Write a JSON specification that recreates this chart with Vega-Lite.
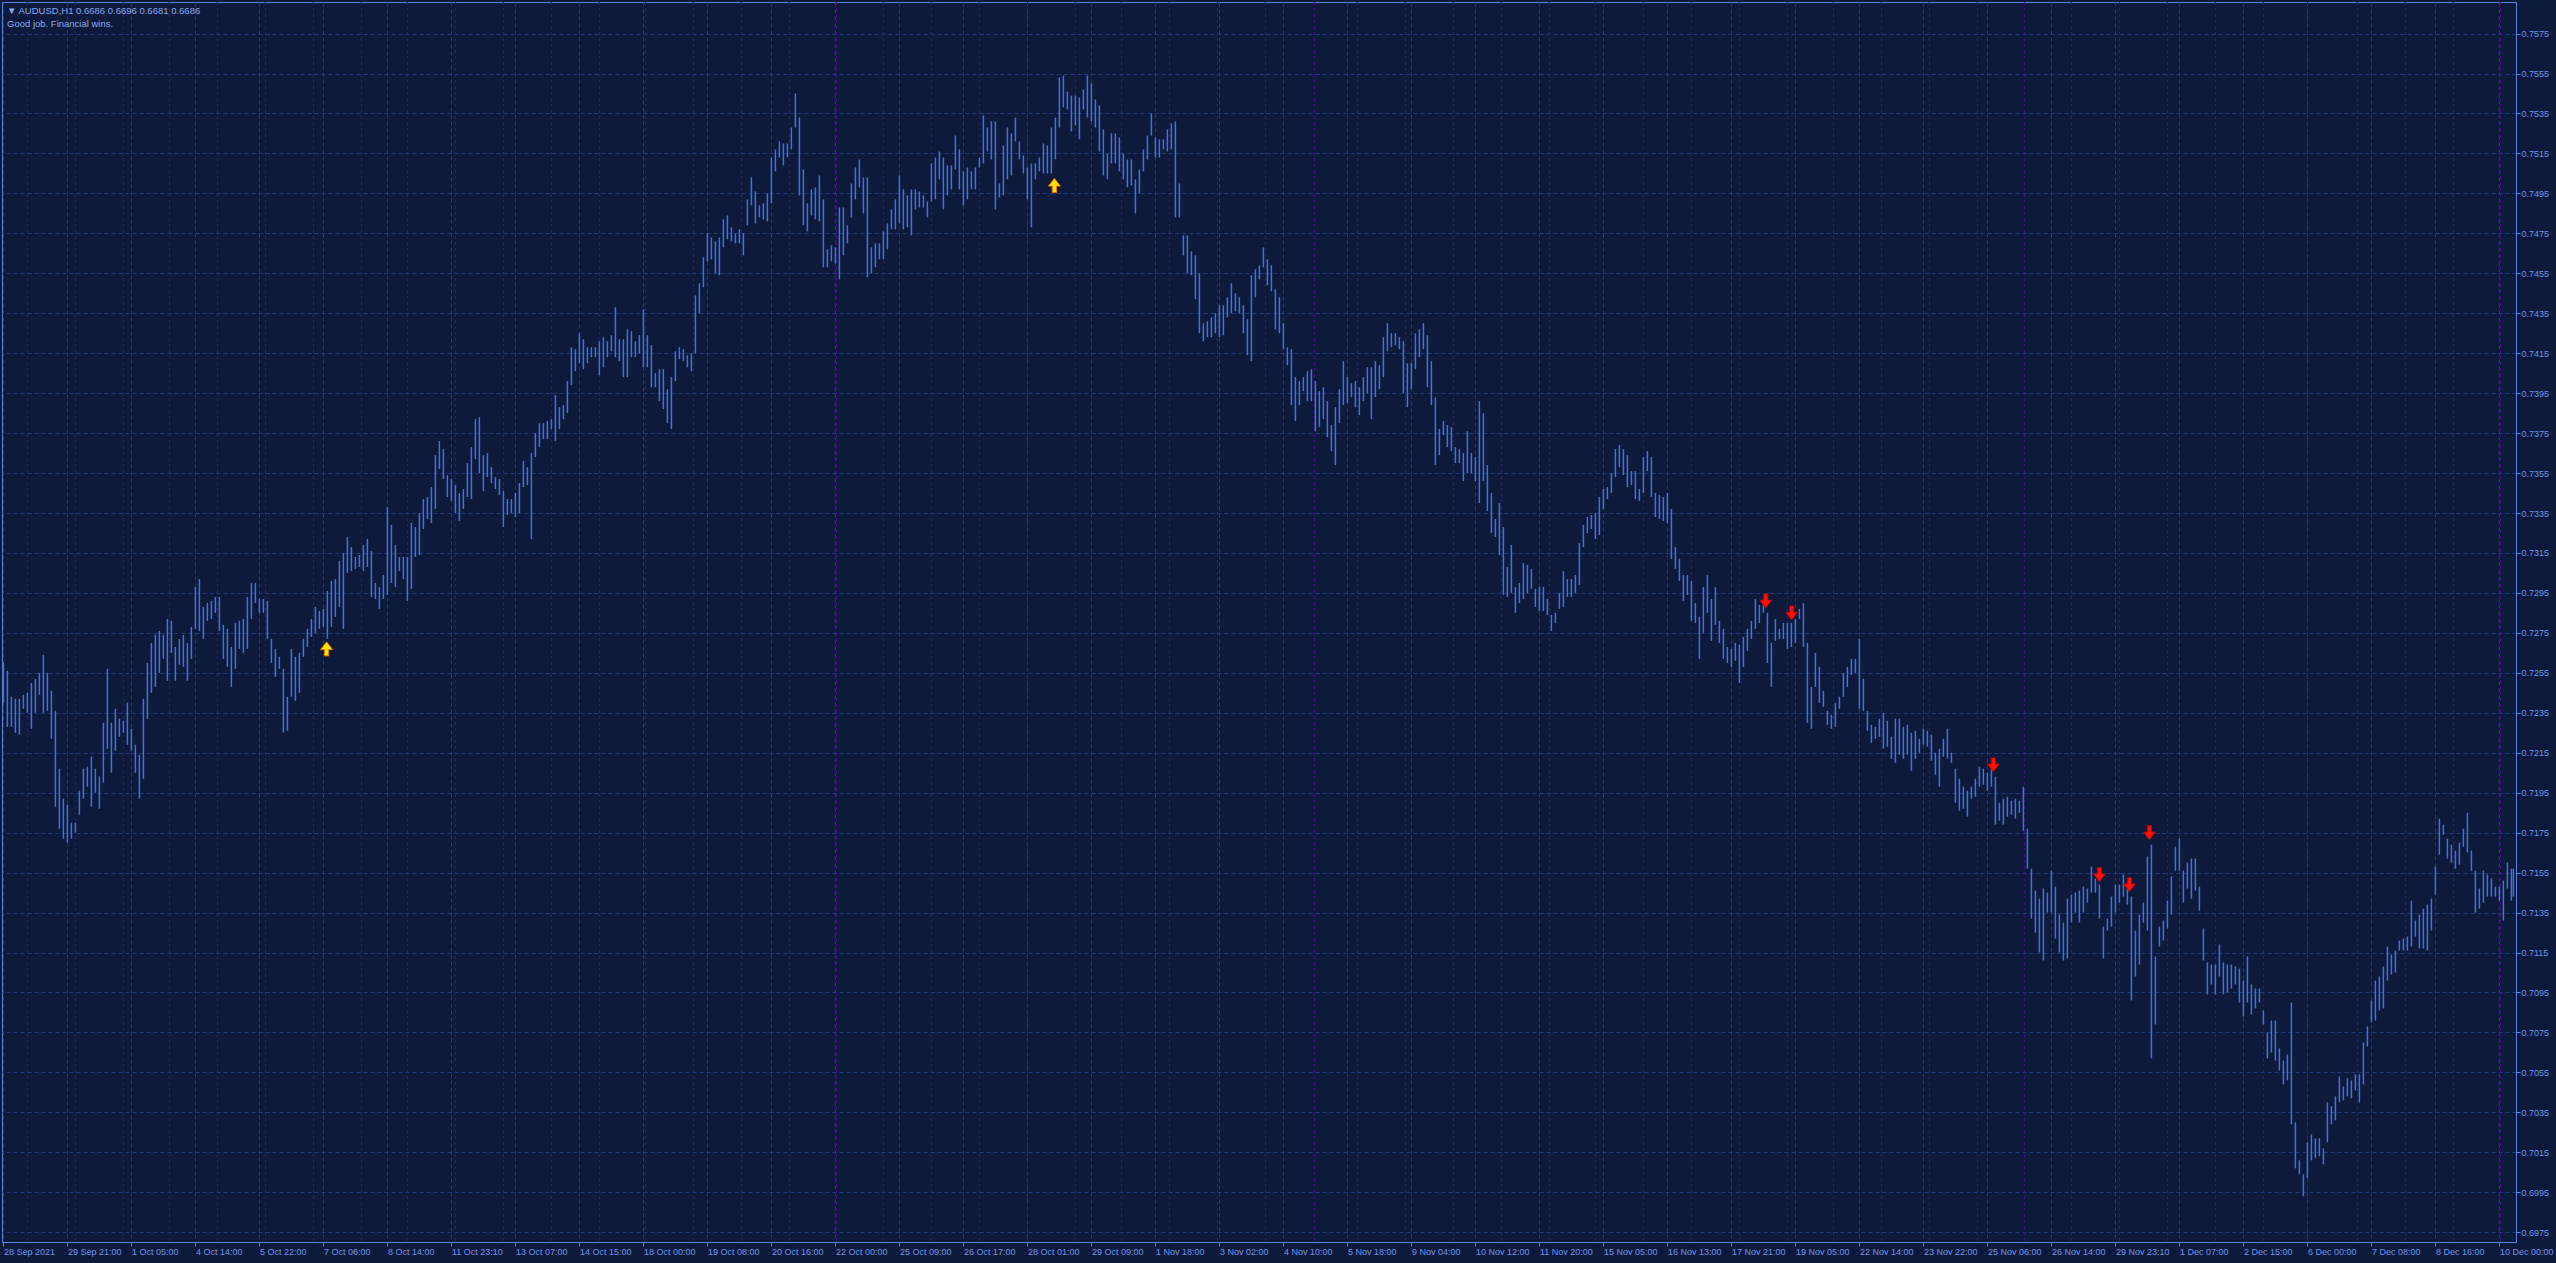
{
"$schema":"https://vega.github.io/schema/vega-lite/v6.json",
"width":2514,"height":1240,
"autosize":{"type":"none"},
"padding":{"left":2,"top":2,"right":40,"bottom":21},
"background":"#0e1a3c",
"config":{"view":{"stroke":"#5c84dc","strokeWidth":1,"fill":"#0e1a3c"},"font":"Liberation Sans"},
"title":{"text":"▼  AUDUSD,H1  0.6686 0.6696 0.6681 0.6686","subtitle":"Good job. Financial wins.","anchor":"start","frame":"group","offset":-27,"dx":5,"color":"#86aaf0","subtitleColor":"#86aaf0","font":"Liberation Sans","subtitleFont":"Liberation Sans","fontSize":9.5,"subtitleFontSize":9.5,"fontWeight":"normal","subtitlePadding":3.5},
"datasets":{
"seps":[{"i":12},{"i":36},{"i":60},{"i":83},{"i":107},{"i":131},{"i":155},{"i":179},{"i":202},{"i":226},{"i":250},{"i":274},{"i":298},{"i":321},{"i":345},{"i":369},{"i":393},{"i":416.5},{"i":440},{"i":464},{"i":488},{"i":512},{"i":536},{"i":559},{"i":583},{"i":607},{"i":631},{"i":655.5},{"i":677},{"i":701},{"i":725},{"i":749},{"i":773},{"i":796},{"i":820},{"i":844},{"i":868},{"i":892},{"i":915},{"i":939},{"i":963},{"i":987},{"i":1010.5},{"i":1034},{"i":1058},{"i":1082},{"i":1106},{"i":1130},{"i":1152},{"i":1177},{"i":1201},{"i":1225},{"i":1248.5}],
"arrows":[{"i":161.6,"p":0.7267,"dir":"up"},{"i":525.5,"p":0.7499,"dir":"up"},{"i":881.2,"p":0.7291,"dir":"down"},{"i":894.1,"p":0.7285,"dir":"down"},{"i":995,"p":0.7209,"dir":"down"},{"i":1048,"p":0.7154,"dir":"down"},{"i":1063,"p":0.7149,"dir":"down"},{"i":1073,"p":0.7175,"dir":"down"}],
"bars":[
{"i":0,"h":0.7260,"l":0.7240},{"i":2,"h":0.7256,"l":0.7228},{"i":4,"h":0.7243,"l":0.7228},{"i":6,"h":0.7242,"l":0.7225},{"i":8,"h":0.7242,"l":0.7224},{"i":10,"h":0.7244,"l":0.7237},{"i":12,"h":0.7245,"l":0.7235},{"i":14,"h":0.7250,"l":0.7227},{"i":16,"h":0.7252,"l":0.7235},{"i":18,"h":0.7255,"l":0.7244},{"i":20,"h":0.7264,"l":0.7235},{"i":22,"h":0.7255,"l":0.7236},{"i":24,"h":0.7246,"l":0.7222},{"i":26,"h":0.7236,"l":0.7188},{"i":28,"h":0.7207,"l":0.7177},{"i":30,"h":0.7192,"l":0.7172},{"i":32,"h":0.7189,"l":0.7170},{"i":34,"h":0.7180,"l":0.7172},{"i":36,"h":0.7180,"l":0.7175},{"i":38,"h":0.7196,"l":0.7184},{"i":40,"h":0.7207,"l":0.7192},{"i":42,"h":0.7208,"l":0.7198},{"i":44,"h":0.7213,"l":0.7188},{"i":46,"h":0.7207,"l":0.7195},{"i":48,"h":0.7203,"l":0.7187},{"i":50,"h":0.7230,"l":0.7200},{"i":52,"h":0.7257,"l":0.7217},{"i":54,"h":0.7230,"l":0.7205},{"i":56,"h":0.7237,"l":0.7216},{"i":58,"h":0.7232,"l":0.7223},{"i":60,"h":0.7231,"l":0.7225},{"i":62,"h":0.7240,"l":0.7219},{"i":64,"h":0.7227,"l":0.7216},{"i":66,"h":0.7219,"l":0.7205},{"i":68,"h":0.7214,"l":0.7192},{"i":70,"h":0.7242,"l":0.7202},{"i":72,"h":0.7260,"l":0.7232},{"i":74,"h":0.7270,"l":0.7245},{"i":76,"h":0.7274,"l":0.7248},{"i":78,"h":0.7276,"l":0.7255},{"i":80,"h":0.7274,"l":0.7262},{"i":82,"h":0.7282,"l":0.7251},{"i":84,"h":0.7281,"l":0.7265},{"i":86,"h":0.7268,"l":0.7251},{"i":88,"h":0.7272,"l":0.7259},{"i":90,"h":0.7274,"l":0.7258},{"i":92,"h":0.7270,"l":0.7251},{"i":94,"h":0.7278,"l":0.7262},{"i":96,"h":0.7298,"l":0.7277},{"i":98,"h":0.7302,"l":0.7276},{"i":100,"h":0.7288,"l":0.7272},{"i":102,"h":0.7290,"l":0.7281},{"i":104,"h":0.7291,"l":0.7282},{"i":106,"h":0.7293,"l":0.7285},{"i":108,"h":0.7293,"l":0.7276},{"i":110,"h":0.7279,"l":0.7262},{"i":112,"h":0.7277,"l":0.7258},{"i":114,"h":0.7268,"l":0.7248},{"i":116,"h":0.7280,"l":0.7257},{"i":118,"h":0.7281,"l":0.7267},{"i":120,"h":0.7282,"l":0.7265},{"i":122,"h":0.7293,"l":0.7267},{"i":124,"h":0.7300,"l":0.7282},{"i":126,"h":0.7300,"l":0.7290},{"i":128,"h":0.7292,"l":0.7285},{"i":130,"h":0.7292,"l":0.7285},{"i":132,"h":0.7291,"l":0.7272},{"i":134,"h":0.7272,"l":0.7260},{"i":136,"h":0.7267,"l":0.7253},{"i":138,"h":0.7263,"l":0.7257},{"i":140,"h":0.7257,"l":0.7225},{"i":142,"h":0.7243,"l":0.7226},{"i":144,"h":0.7267,"l":0.7243},{"i":146,"h":0.7263,"l":0.7241},{"i":148,"h":0.7265,"l":0.7245},{"i":150,"h":0.7272,"l":0.7263},{"i":152,"h":0.7277,"l":0.7268},{"i":154,"h":0.7282,"l":0.7273},{"i":156,"h":0.7288,"l":0.7275},{"i":158,"h":0.7286,"l":0.7277},{"i":160,"h":0.7287,"l":0.7278},{"i":162,"h":0.7296,"l":0.7272},{"i":164,"h":0.7301,"l":0.7278},{"i":166,"h":0.7302,"l":0.7283},{"i":168,"h":0.7311,"l":0.7288},{"i":170,"h":0.7315,"l":0.7277},{"i":172,"h":0.7323,"l":0.7305},{"i":174,"h":0.7318,"l":0.7306},{"i":176,"h":0.7313,"l":0.7307},{"i":178,"h":0.7314,"l":0.7308},{"i":180,"h":0.7319,"l":0.7306},{"i":182,"h":0.7322,"l":0.7308},{"i":184,"h":0.7316,"l":0.7293},{"i":186,"h":0.7300,"l":0.7292},{"i":188,"h":0.7298,"l":0.7287},{"i":190,"h":0.7304,"l":0.7292},{"i":192,"h":0.7338,"l":0.7294},{"i":194,"h":0.7329,"l":0.7300},{"i":196,"h":0.7319,"l":0.7298},{"i":198,"h":0.7313,"l":0.7306},{"i":200,"h":0.7313,"l":0.7302},{"i":202,"h":0.7313,"l":0.7291},{"i":204,"h":0.7330,"l":0.7297},{"i":206,"h":0.7328,"l":0.7313},{"i":208,"h":0.7335,"l":0.7314},{"i":210,"h":0.7342,"l":0.7327},{"i":212,"h":0.7343,"l":0.7332},{"i":214,"h":0.7348,"l":0.7330},{"i":216,"h":0.7364,"l":0.7337},{"i":218,"h":0.7371,"l":0.7357},{"i":220,"h":0.7367,"l":0.7352},{"i":222,"h":0.7354,"l":0.7343},{"i":224,"h":0.7352,"l":0.7341},{"i":226,"h":0.7349,"l":0.7335},{"i":228,"h":0.7345,"l":0.7331},{"i":230,"h":0.7347,"l":0.7337},{"i":232,"h":0.7360,"l":0.7343},{"i":234,"h":0.7368,"l":0.7342},{"i":236,"h":0.7382,"l":0.7362},{"i":238,"h":0.7383,"l":0.7355},{"i":240,"h":0.7364,"l":0.7346},{"i":242,"h":0.7365,"l":0.7353},{"i":244,"h":0.7358,"l":0.7350},{"i":246,"h":0.7353,"l":0.7347},{"i":248,"h":0.7352,"l":0.7344},{"i":250,"h":0.7346,"l":0.7328},{"i":252,"h":0.7342,"l":0.7334},{"i":254,"h":0.7342,"l":0.7335},{"i":256,"h":0.7345,"l":0.7333},{"i":258,"h":0.7350,"l":0.7335},
{"i":260,"h":0.7361,"l":0.7348},{"i":262,"h":0.7358,"l":0.7349},{"i":264,"h":0.7365,"l":0.7322},{"i":266,"h":0.7375,"l":0.7363},{"i":268,"h":0.7380,"l":0.7368},{"i":270,"h":0.7380,"l":0.7372},{"i":272,"h":0.7381,"l":0.7372},{"i":274,"h":0.7382,"l":0.7377},{"i":276,"h":0.7394,"l":0.7371},{"i":278,"h":0.7388,"l":0.7377},{"i":280,"h":0.7389,"l":0.7382},{"i":282,"h":0.7401,"l":0.7385},{"i":284,"h":0.7418,"l":0.7399},{"i":286,"h":0.7417,"l":0.7406},{"i":288,"h":0.7425,"l":0.7410},{"i":290,"h":0.7422,"l":0.7407},{"i":292,"h":0.7418,"l":0.7410},{"i":294,"h":0.7418,"l":0.7413},{"i":296,"h":0.7418,"l":0.7413},{"i":298,"h":0.7421,"l":0.7404},{"i":300,"h":0.7423,"l":0.7408},{"i":302,"h":0.7421,"l":0.7413},{"i":304,"h":0.7424,"l":0.7416},{"i":306,"h":0.7438,"l":0.7413},{"i":308,"h":0.7422,"l":0.7411},{"i":310,"h":0.7422,"l":0.7403},{"i":312,"h":0.7427,"l":0.7403},{"i":314,"h":0.7426,"l":0.7413},{"i":316,"h":0.7421,"l":0.7413},{"i":318,"h":0.7424,"l":0.7415},{"i":320,"h":0.7437,"l":0.7408},{"i":322,"h":0.7424,"l":0.7408},{"i":324,"h":0.7419,"l":0.7398},{"i":326,"h":0.7405,"l":0.7398},{"i":328,"h":0.7407,"l":0.7391},{"i":330,"h":0.7407,"l":0.7387},{"i":332,"h":0.7397,"l":0.7380},{"i":334,"h":0.7403,"l":0.7377},{"i":336,"h":0.7416,"l":0.7401},{"i":338,"h":0.7418,"l":0.7412},{"i":340,"h":0.7417,"l":0.7411},{"i":342,"h":0.7414,"l":0.7408},{"i":344,"h":0.7415,"l":0.7406},{"i":346,"h":0.7444,"l":0.7415},{"i":348,"h":0.7450,"l":0.7435},{"i":350,"h":0.7463,"l":0.7448},{"i":352,"h":0.7475,"l":0.7461},{"i":354,"h":0.7473,"l":0.7462},{"i":356,"h":0.7471,"l":0.7455},{"i":358,"h":0.7473,"l":0.7454},{"i":360,"h":0.7482,"l":0.7468},{"i":362,"h":0.7484,"l":0.7472},{"i":364,"h":0.7478,"l":0.7471},{"i":366,"h":0.7475,"l":0.7470},{"i":368,"h":0.7477,"l":0.7470},{"i":370,"h":0.7475,"l":0.7464},{"i":372,"h":0.7492,"l":0.7479},{"i":374,"h":0.7503,"l":0.7489},{"i":376,"h":0.7496,"l":0.7480},{"i":378,"h":0.7489,"l":0.7483},{"i":380,"h":0.7490,"l":0.7482},{"i":382,"h":0.7495,"l":0.7481},{"i":384,"h":0.7513,"l":0.7490},{"i":386,"h":0.7517,"l":0.7506},{"i":388,"h":0.7521,"l":0.7513},{"i":390,"h":0.7520,"l":0.7509},{"i":392,"h":0.7520,"l":0.7513},{"i":394,"h":0.7528,"l":0.7517},{"i":396,"h":0.7545,"l":0.7528},{"i":398,"h":0.7533,"l":0.7494},{"i":400,"h":0.7507,"l":0.7479},{"i":402,"h":0.7490,"l":0.7476},{"i":404,"h":0.7497,"l":0.7484},{"i":406,"h":0.7498,"l":0.7482},{"i":408,"h":0.7504,"l":0.7481},{"i":410,"h":0.7492,"l":0.7458},{"i":412,"h":0.7467,"l":0.7458},{"i":414,"h":0.7469,"l":0.7461},{"i":416,"h":0.7468,"l":0.7460},{"i":418,"h":0.7488,"l":0.7452},{"i":420,"h":0.7488,"l":0.7464},{"i":422,"h":0.7479,"l":0.7470},{"i":424,"h":0.7500,"l":0.7483},{"i":426,"h":0.7508,"l":0.7492},{"i":428,"h":0.7512,"l":0.7498},{"i":430,"h":0.7503,"l":0.7485},{"i":432,"h":0.7503,"l":0.7453},{"i":434,"h":0.7468,"l":0.7455},{"i":436,"h":0.7470,"l":0.7458},{"i":438,"h":0.7470,"l":0.7462},{"i":440,"h":0.7476,"l":0.7462},{"i":442,"h":0.7480,"l":0.7467},{"i":444,"h":0.7487,"l":0.7477},{"i":446,"h":0.7492,"l":0.7477},{"i":448,"h":0.7504,"l":0.7480},{"i":450,"h":0.7497,"l":0.7477},{"i":452,"h":0.7494,"l":0.7478},{"i":454,"h":0.7497,"l":0.7474},{"i":456,"h":0.7497,"l":0.7487},{"i":458,"h":0.7496,"l":0.7488},{"i":460,"h":0.7494,"l":0.7488},{"i":462,"h":0.7491,"l":0.7483},{"i":464,"h":0.7510,"l":0.7491},{"i":466,"h":0.7513,"l":0.7492},{"i":468,"h":0.7516,"l":0.7502},{"i":470,"h":0.7513,"l":0.7487},{"i":472,"h":0.7509,"l":0.7494},{"i":474,"h":0.7509,"l":0.7497},{"i":476,"h":0.7524,"l":0.7507},{"i":478,"h":0.7517,"l":0.7497},{"i":480,"h":0.7506,"l":0.7489},{"i":482,"h":0.7508,"l":0.7492},{"i":484,"h":0.7506,"l":0.7497},{"i":486,"h":0.7508,"l":0.7497},{"i":488,"h":0.7513,"l":0.7508},{"i":490,"h":0.7534,"l":0.7510},{"i":492,"h":0.7528,"l":0.7516},{"i":494,"h":0.7531,"l":0.7512},{"i":496,"h":0.7531,"l":0.7487},{"i":498,"h":0.7500,"l":0.7493},{"i":500,"h":0.7519,"l":0.7494},{"i":502,"h":0.7528,"l":0.7502},{"i":504,"h":0.7525,"l":0.7504},{"i":506,"h":0.7533,"l":0.7521},{"i":508,"h":0.7521,"l":0.7512},{"i":510,"h":0.7514,"l":0.7505},{"i":512,"h":0.7508,"l":0.7492},{"i":514,"h":0.7510,"l":0.7478},{"i":516,"h":0.7510,"l":0.7502},{"i":518,"h":0.7513,"l":0.7506},{"i":520,"h":0.7520,"l":0.7505},
{"i":522,"h":0.7519,"l":0.7505},{"i":524,"h":0.7528,"l":0.7505},{"i":526,"h":0.7533,"l":0.7512},{"i":528,"h":0.7553,"l":0.7528},{"i":530,"h":0.7554,"l":0.7538},{"i":532,"h":0.7546,"l":0.7537},{"i":534,"h":0.7544,"l":0.7526},{"i":536,"h":0.7544,"l":0.7529},{"i":538,"h":0.7543,"l":0.7522},{"i":540,"h":0.7547,"l":0.7537},{"i":542,"h":0.7554,"l":0.7533},{"i":544,"h":0.7550,"l":0.7531},{"i":546,"h":0.7542,"l":0.7528},{"i":548,"h":0.7539,"l":0.7516},{"i":550,"h":0.7527,"l":0.7504},{"i":552,"h":0.7515,"l":0.7502},{"i":554,"h":0.7525,"l":0.7510},{"i":556,"h":0.7525,"l":0.7510},{"i":558,"h":0.7523,"l":0.7506},{"i":560,"h":0.7515,"l":0.7502},{"i":562,"h":0.7512,"l":0.7498},{"i":564,"h":0.7512,"l":0.7499},{"i":566,"h":0.7502,"l":0.7485},{"i":568,"h":0.7507,"l":0.7495},{"i":570,"h":0.7517,"l":0.7506},{"i":572,"h":0.7524,"l":0.7512},{"i":574,"h":0.7535,"l":0.7524},{"i":576,"h":0.7523,"l":0.7513},{"i":578,"h":0.7522,"l":0.7513},{"i":580,"h":0.7522,"l":0.7517},{"i":582,"h":0.7527,"l":0.7516},{"i":584,"h":0.7530,"l":0.7517},{"i":586,"h":0.7531,"l":0.7483},{"i":588,"h":0.7500,"l":0.7483},{"i":590,"h":0.7474,"l":0.7464},{"i":592,"h":0.7474,"l":0.7455},{"i":594,"h":0.7466,"l":0.7454},{"i":596,"h":0.7464,"l":0.7442},{"i":598,"h":0.7455,"l":0.7425},{"i":600,"h":0.7430,"l":0.7421},{"i":602,"h":0.7431,"l":0.7423},{"i":604,"h":0.7433,"l":0.7423},{"i":606,"h":0.7435,"l":0.7425},{"i":608,"h":0.7439,"l":0.7423},{"i":610,"h":0.7439,"l":0.7424},{"i":612,"h":0.7443,"l":0.7433},{"i":614,"h":0.7450,"l":0.7435},{"i":616,"h":0.7445,"l":0.7436},{"i":618,"h":0.7443,"l":0.7435},{"i":620,"h":0.7439,"l":0.7425},{"i":622,"h":0.7432,"l":0.7414},{"i":624,"h":0.7454,"l":0.7411},{"i":626,"h":0.7457,"l":0.7443},{"i":628,"h":0.7459,"l":0.7452},{"i":630,"h":0.7468,"l":0.7458},{"i":632,"h":0.7462,"l":0.7449},{"i":634,"h":0.7459,"l":0.7446},{"i":636,"h":0.7447,"l":0.7427},{"i":638,"h":0.7443,"l":0.7425},{"i":640,"h":0.7430,"l":0.7417},{"i":642,"h":0.7418,"l":0.7409},{"i":644,"h":0.7417,"l":0.7389},{"i":646,"h":0.7403,"l":0.7381},{"i":648,"h":0.7401,"l":0.7389},{"i":650,"h":0.7403,"l":0.7396},{"i":652,"h":0.7406,"l":0.7391},{"i":654,"h":0.7407,"l":0.7391},{"i":656,"h":0.7401,"l":0.7376},{"i":658,"h":0.7396,"l":0.7378},{"i":660,"h":0.7398,"l":0.7382},{"i":662,"h":0.7391,"l":0.7373},{"i":664,"h":0.7379,"l":0.7366},{"i":666,"h":0.7388,"l":0.7359},{"i":668,"h":0.7397,"l":0.7380},{"i":670,"h":0.7411,"l":0.7389},{"i":672,"h":0.7403,"l":0.7390},{"i":674,"h":0.7400,"l":0.7393},{"i":676,"h":0.7401,"l":0.7388},{"i":678,"h":0.7398,"l":0.7384},{"i":680,"h":0.7403,"l":0.7391},{"i":682,"h":0.7408,"l":0.7395},{"i":684,"h":0.7408,"l":0.7382},{"i":686,"h":0.7411,"l":0.7393},{"i":688,"h":0.7409,"l":0.7397},{"i":690,"h":0.7423,"l":0.7403},{"i":692,"h":0.7430,"l":0.7416},{"i":694,"h":0.7425,"l":0.7418},{"i":696,"h":0.7425,"l":0.7419},{"i":698,"h":0.7423,"l":0.7417},{"i":700,"h":0.7421,"l":0.7395},{"i":702,"h":0.7410,"l":0.7388},{"i":704,"h":0.7410,"l":0.7397},{"i":706,"h":0.7425,"l":0.7407},{"i":708,"h":0.7427,"l":0.7413},{"i":710,"h":0.7430,"l":0.7417},{"i":712,"h":0.7424,"l":0.7398},{"i":714,"h":0.7411,"l":0.7389},{"i":716,"h":0.7393,"l":0.7359},{"i":718,"h":0.7377,"l":0.7364},{"i":720,"h":0.7381,"l":0.7374},{"i":722,"h":0.7379,"l":0.7368},{"i":724,"h":0.7378,"l":0.7366},{"i":726,"h":0.7368,"l":0.7360},{"i":728,"h":0.7367,"l":0.7360},{"i":730,"h":0.7365,"l":0.7351},{"i":732,"h":0.7376,"l":0.7355},{"i":734,"h":0.7365,"l":0.7355},{"i":736,"h":0.7363,"l":0.7351},{"i":738,"h":0.7391,"l":0.7340},{"i":740,"h":0.7385,"l":0.7351},{"i":742,"h":0.7359,"l":0.7336},{"i":744,"h":0.7345,"l":0.7325},{"i":746,"h":0.7332,"l":0.7323},{"i":748,"h":0.7340,"l":0.7314},{"i":750,"h":0.7328,"l":0.7294},{"i":752,"h":0.7308,"l":0.7293},{"i":754,"h":0.7319,"l":0.7295},{"i":756,"h":0.7298,"l":0.7285},{"i":758,"h":0.7300,"l":0.7290},{"i":760,"h":0.7310,"l":0.7292},{"i":762,"h":0.7309,"l":0.7295},{"i":764,"h":0.7307,"l":0.7297},{"i":766,"h":0.7297,"l":0.7288},{"i":768,"h":0.7298,"l":0.7286},{"i":770,"h":0.7298,"l":0.7286},{"i":772,"h":0.7292,"l":0.7284},{"i":774,"h":0.7284,"l":0.7276},{"i":776,"h":0.7285,"l":0.7280},{"i":778,"h":0.7295,"l":0.7287},{"i":780,"h":0.7306,"l":0.7288},{"i":782,"h":0.7302,"l":0.7293},{"i":784,"h":0.7302,"l":0.7293},{"i":786,"h":0.7304,"l":0.7295},{"i":788,"h":0.7320,"l":0.7299},
{"i":790,"h":0.7329,"l":0.7318},{"i":792,"h":0.7333,"l":0.7325},{"i":794,"h":0.7334,"l":0.7327},{"i":796,"h":0.7335,"l":0.7322},{"i":798,"h":0.7343,"l":0.7324},{"i":800,"h":0.7347,"l":0.7337},{"i":802,"h":0.7348,"l":0.7342},{"i":804,"h":0.7355,"l":0.7345},{"i":806,"h":0.7367,"l":0.7353},{"i":808,"h":0.7369,"l":0.7358},{"i":810,"h":0.7367,"l":0.7354},{"i":812,"h":0.7364,"l":0.7348},{"i":814,"h":0.7356,"l":0.7349},{"i":816,"h":0.7356,"l":0.7342},{"i":818,"h":0.7347,"l":0.7341},{"i":820,"h":0.7363,"l":0.7345},{"i":822,"h":0.7366,"l":0.7356},{"i":824,"h":0.7363,"l":0.7343},{"i":826,"h":0.7345,"l":0.7333},{"i":828,"h":0.7344,"l":0.7332},{"i":830,"h":0.7343,"l":0.7331},{"i":832,"h":0.7345,"l":0.7330},{"i":834,"h":0.7337,"l":0.7312},{"i":836,"h":0.7318,"l":0.7307},{"i":838,"h":0.7312,"l":0.7301},{"i":840,"h":0.7304,"l":0.7291},{"i":842,"h":0.7304,"l":0.7294},{"i":844,"h":0.7301,"l":0.7281},{"i":846,"h":0.7290,"l":0.7280},{"i":848,"h":0.7283,"l":0.7262},{"i":850,"h":0.7298,"l":0.7275},{"i":852,"h":0.7304,"l":0.7285},{"i":854,"h":0.7292,"l":0.7271},{"i":856,"h":0.7298,"l":0.7279},{"i":858,"h":0.7281,"l":0.7270},{"i":860,"h":0.7277,"l":0.7262},{"i":862,"h":0.7268,"l":0.7260},{"i":864,"h":0.7267,"l":0.7258},{"i":866,"h":0.7270,"l":0.7261},{"i":868,"h":0.7269,"l":0.7250},{"i":870,"h":0.7273,"l":0.7258},{"i":872,"h":0.7277,"l":0.7266},{"i":874,"h":0.7281,"l":0.7272},{"i":876,"h":0.7292,"l":0.7277},{"i":878,"h":0.7289,"l":0.7280},{"i":880,"h":0.7292,"l":0.7285},{"i":882,"h":0.7285,"l":0.7260},{"i":884,"h":0.7270,"l":0.7248},{"i":886,"h":0.7282,"l":0.7271},{"i":888,"h":0.7277,"l":0.7272},{"i":890,"h":0.7280,"l":0.7272},{"i":892,"h":0.7280,"l":0.7267},{"i":894,"h":0.7280,"l":0.7268},{"i":896,"h":0.7282,"l":0.7270},{"i":898,"h":0.7287,"l":0.7282},{"i":900,"h":0.7290,"l":0.7268},{"i":902,"h":0.7270,"l":0.7230},{"i":904,"h":0.7248,"l":0.7227},{"i":906,"h":0.7265,"l":0.7248},{"i":908,"h":0.7258,"l":0.7240},{"i":910,"h":0.7246,"l":0.7238},{"i":912,"h":0.7236,"l":0.7229},{"i":914,"h":0.7234,"l":0.7227},{"i":916,"h":0.7240,"l":0.7228},{"i":918,"h":0.7243,"l":0.7237},{"i":920,"h":0.7255,"l":0.7243},{"i":922,"h":0.7258,"l":0.7248},{"i":924,"h":0.7262,"l":0.7254},{"i":926,"h":0.7262,"l":0.7255},{"i":928,"h":0.7272,"l":0.7237},{"i":930,"h":0.7252,"l":0.7236},{"i":932,"h":0.7236,"l":0.7226},{"i":934,"h":0.7229,"l":0.7220},{"i":936,"h":0.7228,"l":0.7222},{"i":938,"h":0.7232,"l":0.7223},{"i":940,"h":0.7235,"l":0.7217},{"i":942,"h":0.7231,"l":0.7218},{"i":944,"h":0.7223,"l":0.7212},{"i":946,"h":0.7232,"l":0.7210},{"i":948,"h":0.7232,"l":0.7214},{"i":950,"h":0.7228,"l":0.7212},{"i":952,"h":0.7229,"l":0.7214},{"i":954,"h":0.7225,"l":0.7206},{"i":956,"h":0.7226,"l":0.7212},{"i":958,"h":0.7222,"l":0.7215},{"i":960,"h":0.7227,"l":0.7219},{"i":962,"h":0.7226,"l":0.7218},{"i":964,"h":0.7224,"l":0.7211},{"i":966,"h":0.7215,"l":0.7204},{"i":968,"h":0.7217,"l":0.7198},{"i":970,"h":0.7222,"l":0.7213},{"i":972,"h":0.7227,"l":0.7212},{"i":974,"h":0.7215,"l":0.7210},{"i":976,"h":0.7207,"l":0.7190},{"i":978,"h":0.7202,"l":0.7186},{"i":980,"h":0.7198,"l":0.7187},{"i":982,"h":0.7196,"l":0.7183},{"i":984,"h":0.7198,"l":0.7192},{"i":986,"h":0.7202,"l":0.7193},{"i":988,"h":0.7208,"l":0.7198},{"i":990,"h":0.7207,"l":0.7199},{"i":992,"h":0.7205,"l":0.7196},{"i":994,"h":0.7208,"l":0.7198},{"i":996,"h":0.7203,"l":0.7179},{"i":998,"h":0.7190,"l":0.7181},{"i":1000,"h":0.7192,"l":0.7179},{"i":1002,"h":0.7193,"l":0.7183},{"i":1004,"h":0.7191,"l":0.7184},{"i":1006,"h":0.7192,"l":0.7182},{"i":1008,"h":0.7191,"l":0.7185},{"i":1010,"h":0.7198,"l":0.7176},{"i":1012,"h":0.7177,"l":0.7157},{"i":1014,"h":0.7157,"l":0.7132},{"i":1016,"h":0.7146,"l":0.7125},{"i":1018,"h":0.7142,"l":0.7115},
{"i":1020,"h":0.7147,"l":0.7111},{"i":1022,"h":0.7145,"l":0.7135},{"i":1024,"h":0.7156,"l":0.7135},{"i":1026,"h":0.7148,"l":0.7122},{"i":1028,"h":0.7134,"l":0.7115},{"i":1030,"h":0.7130,"l":0.7111},{"i":1032,"h":0.7142,"l":0.7112},{"i":1034,"h":0.7144,"l":0.7130},{"i":1036,"h":0.7145,"l":0.7135},{"i":1038,"h":0.7146,"l":0.7130},{"i":1040,"h":0.7148,"l":0.7135},{"i":1042,"h":0.7147,"l":0.7140},{"i":1044,"h":0.7158,"l":0.7145},{"i":1046,"h":0.7152,"l":0.7145},{"i":1048,"h":0.7149,"l":0.7132},{"i":1050,"h":0.7128,"l":0.7112},{"i":1052,"h":0.7132,"l":0.7126},{"i":1054,"h":0.7143,"l":0.7128},{"i":1056,"h":0.7149,"l":0.7135},{"i":1058,"h":0.7149,"l":0.7140},{"i":1060,"h":0.7154,"l":0.7143},{"i":1062,"h":0.7148,"l":0.7139},{"i":1064,"h":0.7143,"l":0.7091},{"i":1066,"h":0.7126,"l":0.7103},{"i":1068,"h":0.7134,"l":0.7109},{"i":1070,"h":0.7140,"l":0.7130},{"i":1072,"h":0.7163,"l":0.7126},{"i":1074,"h":0.7169,"l":0.7062},{"i":1076,"h":0.7113,"l":0.7079},{"i":1078,"h":0.7128,"l":0.7118},{"i":1080,"h":0.7131,"l":0.7121},{"i":1082,"h":0.7141,"l":0.7127},{"i":1084,"h":0.7153,"l":0.7134},{"i":1086,"h":0.7168,"l":0.7156},{"i":1088,"h":0.7172,"l":0.7156},{"i":1090,"h":0.7156,"l":0.7140},{"i":1092,"h":0.7160,"l":0.7147},{"i":1094,"h":0.7162,"l":0.7142},{"i":1096,"h":0.7162,"l":0.7146},{"i":1098,"h":0.7148,"l":0.7136},{"i":1100,"h":0.7127,"l":0.7111},{"i":1102,"h":0.7110,"l":0.7094},{"i":1104,"h":0.7109,"l":0.7099},{"i":1106,"h":0.7109,"l":0.7094},{"i":1108,"h":0.7119,"l":0.7103},{"i":1110,"h":0.7110,"l":0.7094},{"i":1112,"h":0.7109,"l":0.7095},{"i":1114,"h":0.7109,"l":0.7097},{"i":1116,"h":0.7108,"l":0.7099},{"i":1118,"h":0.7107,"l":0.7090},{"i":1120,"h":0.7101,"l":0.7083},{"i":1122,"h":0.7113,"l":0.7090},{"i":1124,"h":0.7099,"l":0.7084},{"i":1126,"h":0.7097,"l":0.7087},{"i":1128,"h":0.7097,"l":0.7090},{"i":1130,"h":0.7086,"l":0.7079},{"i":1132,"h":0.7075,"l":0.7062},{"i":1134,"h":0.7081,"l":0.7065},{"i":1136,"h":0.7081,"l":0.7061},{"i":1138,"h":0.7067,"l":0.7056},{"i":1140,"h":0.7061,"l":0.7049},{"i":1142,"h":0.7064,"l":0.7051},{"i":1144,"h":0.7090,"l":0.7029},{"i":1146,"h":0.7030,"l":0.7007},{"i":1148,"h":0.7011,"l":0.7004},{"i":1150,"h":0.7004,"l":0.6993},{"i":1152,"h":0.7020,"l":0.7002},{"i":1154,"h":0.7024,"l":0.7011},{"i":1156,"h":0.7022,"l":0.7012},{"i":1158,"h":0.7022,"l":0.7013},{"i":1160,"h":0.7017,"l":0.7009},{"i":1162,"h":0.7040,"l":0.7020},{"i":1164,"h":0.7038,"l":0.7029},{"i":1166,"h":0.7043,"l":0.7031},{"i":1168,"h":0.7053,"l":0.7040},{"i":1170,"h":0.7048,"l":0.7041},{"i":1172,"h":0.7052,"l":0.7043},{"i":1174,"h":0.7051,"l":0.7042},{"i":1176,"h":0.7054,"l":0.7046},{"i":1178,"h":0.7054,"l":0.7040},{"i":1180,"h":0.7070,"l":0.7049},{"i":1182,"h":0.7078,"l":0.7068},{"i":1184,"h":0.7091,"l":0.7080},{"i":1186,"h":0.7101,"l":0.7081},{"i":1188,"h":0.7103,"l":0.7086},{"i":1190,"h":0.7108,"l":0.7087},{"i":1192,"h":0.7118,"l":0.7101},{"i":1194,"h":0.7114,"l":0.7104},{"i":1196,"h":0.7116,"l":0.7105},{"i":1198,"h":0.7121,"l":0.7116},{"i":1200,"h":0.7122,"l":0.7116},{"i":1202,"h":0.7123,"l":0.7116},{"i":1204,"h":0.7141,"l":0.7118},{"i":1206,"h":0.7131,"l":0.7123},{"i":1208,"h":0.7134,"l":0.7117},{"i":1210,"h":0.7137,"l":0.7117},{"i":1212,"h":0.7139,"l":0.7116},{"i":1214,"h":0.7142,"l":0.7126},{"i":1216,"h":0.7158,"l":0.7144},{"i":1218,"h":0.7182,"l":0.7164},{"i":1220,"h":0.7179,"l":0.7174},{"i":1222,"h":0.7172,"l":0.7162},{"i":1224,"h":0.7169,"l":0.7160},{"i":1226,"h":0.7166,"l":0.7157},{"i":1228,"h":0.7170,"l":0.7159},{"i":1230,"h":0.7177,"l":0.7168},{"i":1232,"h":0.7185,"l":0.7165},{"i":1234,"h":0.7166,"l":0.7156},{"i":1236,"h":0.7156,"l":0.7135},{"i":1238,"h":0.7147,"l":0.7137},{"i":1240,"h":0.7156,"l":0.7140},{"i":1242,"h":0.7154,"l":0.7143},{"i":1244,"h":0.7152,"l":0.7143},{"i":1246,"h":0.7148,"l":0.7143},{"i":1248,"h":0.7148,"l":0.7141},{"i":1250,"h":0.7151,"l":0.7131},{"i":1252,"h":0.7160,"l":0.7147},{"i":1254,"h":0.7157,"l":0.7141},{"i":1255,"h":0.7157,"l":0.7143}
]},
"layer":[
{"data":{"name":"seps"},"mark":{"type":"rule","color":"#47108a","strokeDash":[3,3],"strokeWidth":1},
 "encoding":{"x":{"field":"i","type":"quantitative","scale":{"domain":[-0.7,1256.3],"nice":false,"zero":false},
  "axis":{"orient":"bottom","title":null,"values":[0,16,32,48,64,80,96,112,128,144,160,176,192,208,224,240,256,272,288,304,320,336,352,368,384,400,416,432,448,464,480,496,512,528,544,560,576,592,608,624,640,656,672,688,704,720,736,752,768,784,800,816,832,848,864,880,896,912,928,944,960,976,992,1008,1024,1040,1056,1072,1088,1104,1120,1136,1152,1168,1184,1200,1216,1232,1248],
   "grid":true,"gridColor":"#1f3a7c","gridDash":[4,3],"gridWidth":1,"domain":true,"domainColor":"#5c84dc","ticks":true,"tickColor":"#5c84dc","tickSize":4,
   "tickOpacity":{"condition":{"test":"datum.value % 32 === 0","value":1},"value":0},
   "labelExpr":"datum.value % 32 === 0 ? ['28 Sep 2021','29 Sep 21:00','1 Oct 05:00','4 Oct 14:00','5 Oct 22:00','7 Oct 06:00','8 Oct 14:00','11 Oct 23:10','13 Oct 07:00','14 Oct 15:00','18 Oct 00:00','19 Oct 08:00','20 Oct 16:00','22 Oct 00:00','25 Oct 09:00','26 Oct 17:00','28 Oct 01:00','29 Oct 09:00','1 Nov 18:00','3 Nov 02:00','4 Nov 10:00','5 Nov 18:00','9 Nov 04:00','10 Nov 12:00','11 Nov 20:00','15 Nov 05:00','16 Nov 13:00','17 Nov 21:00','19 Nov 05:00','22 Nov 14:00','23 Nov 22:00','25 Nov 06:00','26 Nov 14:00','29 Nov 23:10','1 Dec 07:00','2 Dec 15:00','6 Dec 00:00','7 Dec 08:00','8 Dec 16:00','10 Dec 00:00'][datum.value / 32] : ''",
   "labelAlign":"left","labelDx":1,"labelColor":"#6f96ea","labelFont":"Liberation Sans","labelFontSize":9,"labelPadding":1,"labelOverlap":false,"labelFlush":false,"labelBound":false}}}},
{"data":{"name":"bars"},"mark":{"type":"rule","color":"#4672d6","strokeWidth":1.5},
 "encoding":{"x":{"field":"i","type":"quantitative","scale":{"domain":[-0.7,1256.3],"nice":false,"zero":false}},
  "y":{"field":"l","type":"quantitative","scale":{"domain":[0.697009,0.759081],"nice":false,"zero":false},
   "axis":{"orient":"right","title":null,"values":[0.6975,0.6995,0.7015,0.7035,0.7055,0.7075,0.7095,0.7115,0.7135,0.7155,0.7175,0.7195,0.7215,0.7235,0.7255,0.7275,0.7295,0.7315,0.7335,0.7355,0.7375,0.7395,0.7415,0.7435,0.7455,0.7475,0.7495,0.7515,0.7535,0.7555,0.7575],
    "format":".4f","grid":true,"gridColor":"#1f3a7c","gridDash":[4,3],"gridWidth":1,"domain":true,"domainColor":"#5c84dc","ticks":true,"tickColor":"#5c84dc","tickSize":4,
    "labelColor":"#6f96ea","labelFont":"Liberation Sans","labelFontSize":9,"labelPadding":1,"labelOverlap":false,"labelFlush":false,"labelBound":false}},
  "y2":{"field":"h"}}},
{"data":{"name":"arrows"},"mark":{"type":"point","filled":true,"size":196,"strokeWidth":1,"opacity":1},
 "encoding":{"x":{"field":"i","type":"quantitative","scale":{"domain":[-0.7,1256.3],"nice":false,"zero":false}},
  "y":{"field":"p","type":"quantitative","title":null,"scale":{"domain":[0.697009,0.759081],"nice":false,"zero":false}},
  "shape":{"field":"dir","type":"nominal","legend":null,"scale":{"domain":["up","down"],"range":["M0,-1L0.85,0.1L0.3,0.1L0.3,1L-0.3,1L-0.3,0.1L-0.85,0.1Z","M0,1L0.85,-0.1L0.3,-0.1L0.3,-1L-0.3,-1L-0.3,-0.1L-0.85,-0.1Z"]}},
  "fill":{"field":"dir","type":"nominal","legend":null,"scale":{"domain":["up","down"],"range":["#ffe600","#ff1010"]}},
  "stroke":{"field":"dir","type":"nominal","legend":null,"scale":{"domain":["up","down"],"range":["#e87a00","#c00000"]}}}}
]
}
